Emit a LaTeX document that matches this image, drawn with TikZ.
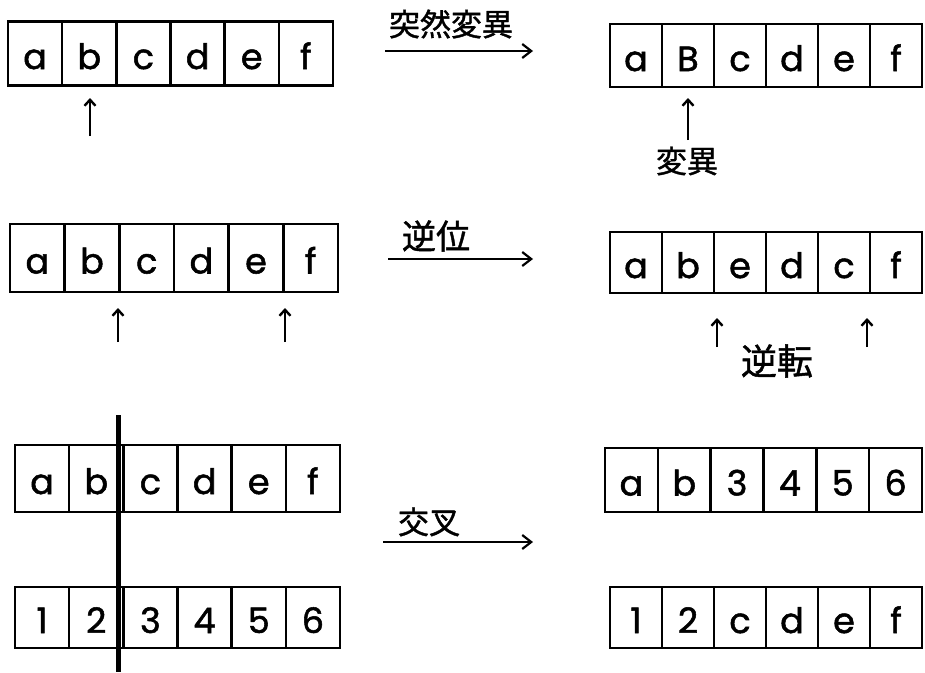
\documentclass[tikz,border=0pt]{standalone}
\usepackage{fontspec}
\setmainfont{Poppins}
\newfontfamily\hand{Poppins}[FakeBold=1.5]
\newfontfamily\cjk{Noto Sans CJK JP}[FakeBold=1.2]
\usetikzlibrary{arrows.meta}
\begin{document}
\begin{tikzpicture}[x=1pt,y=-1pt,
  cell/.style={draw, line width=2.6pt, inner sep=0pt, text height=31pt, text depth=0pt, font=\hand\fontsize{35}{36}\selectfont},
  lcell/.style={cell, minimum width=54.17pt, minimum height=64pt},
  rcell/.style={cell, minimum width=52pt, minimum height=63pt},
  bigarrow/.style={line width=2.2pt, -{Straight Barb[length=9pt, width=14pt, line width=2.2pt]}},
  smallarrow/.style={line width=2.4pt, -{Straight Barb[length=6pt, width=11pt, line width=2.4pt]}},
  jlabel/.style={font=\cjk\fontsize{31}{33}\selectfont, inner sep=0pt},
  cut/.style={line width=5pt}]
\fill[white] (0,0) rectangle (925,672);
\useasboundingbox (0,0) rectangle (925,672);

% row 1
\foreach \t [count=\i] in {a,b,c,d,e,f}
  \node[lcell] (L1-\i) at ({8+(\i-0.5)*54.17},53.5) {\t};
\foreach \t [count=\i] in {a,B,c,d,e,f}
  \node[rcell] (R1-\i) at ({610+(\i-0.5)*52},55.5) {\t};
% row 2
\foreach \t [count=\i] in {a,b,c,d,e,f}
  \node[lcell, minimum width=54.67pt, minimum height=68pt] (L2-\i) at ({10+(\i-0.5)*54.67},258) {\t};
\foreach \t [count=\i] in {a,b,e,d,c,f}
  \node[rcell, minimum height=61pt] (R2-\i) at ({610+(\i-0.5)*52},262.5) {\t};
% row 3
\foreach \t [count=\i] in {a,b,c,d,e,f}
  \node[lcell, minimum height=67pt] (L3-\i) at ({15+(\i-0.5)*54.17},478.5) {\t};
\foreach \t [count=\i] in {1,2,3,4,5,6}
  \node[lcell, minimum height=61pt] (L4-\i) at ({15+(\i-0.5)*54.17},617.5) {\t};
\foreach \t [count=\i] in {a,b,3,4,5,6}
  \node[rcell, minimum width=52.83pt, minimum height=64pt] (R3-\i) at ({605+(\i-0.5)*52.83},480) {\t};
\foreach \t [count=\i] in {1,2,c,d,e,f}
  \node[rcell, minimum height=61pt] (R4-\i) at ({610+(\i-0.5)*52},617.5) {\t};

% crossover cut
\coordinate (cuttop) at (118,415);
\coordinate (cutbot) at (118,672);
\draw[cut] (cuttop) -- (cutbot);

% transformation arrows
\coordinate (m1s) at (385,51); \coordinate (m1e) at (533,51);
\coordinate (m2s) at (388,259); \coordinate (m2e) at (533,259);
\coordinate (m3s) at (383,542); \coordinate (m3e) at (533,542);
\draw[bigarrow] (m1s) -- (m1e);
\draw[bigarrow] (m2s) -- (m2e);
\draw[bigarrow] (m3s) -- (m3e);
\node[jlabel] (t1) at (451,24) {突然変異};
\node[jlabel, font=\cjk\fontsize{34}{36}\selectfont] (t2) at (436,236) {逆位};
\node[jlabel] (t3) at (429,522) {交叉};

% pointer arrows
\coordinate (p1s) at (90,136); \coordinate (p1e) at (90,98);
\draw[smallarrow] (p1s) -- (p1e);
\coordinate (p2s) at (118,342); \coordinate (p2e) at (118,308);
\coordinate (p3s) at (285,342); \coordinate (p3e) at (285,308);
\draw[smallarrow] (p2s) -- (p2e);
\draw[smallarrow] (p3s) -- (p3e);
\coordinate (q1s) at (688,140); \coordinate (q1e) at (688,98);
\draw[smallarrow] (q1s) -- (q1e);
\coordinate (q2s) at (717,347); \coordinate (q2e) at (717,318);
\coordinate (q3s) at (867,347); \coordinate (q3e) at (867,318);
\draw[smallarrow] (q2s) -- (q2e);
\draw[smallarrow] (q3s) -- (q3e);
\node[jlabel] (t4) at (687,161) {変異};
\node[jlabel, font=\cjk\fontsize{36}{38}\selectfont] (t5) at (777,361) {逆転};
\end{tikzpicture}
\end{document}
